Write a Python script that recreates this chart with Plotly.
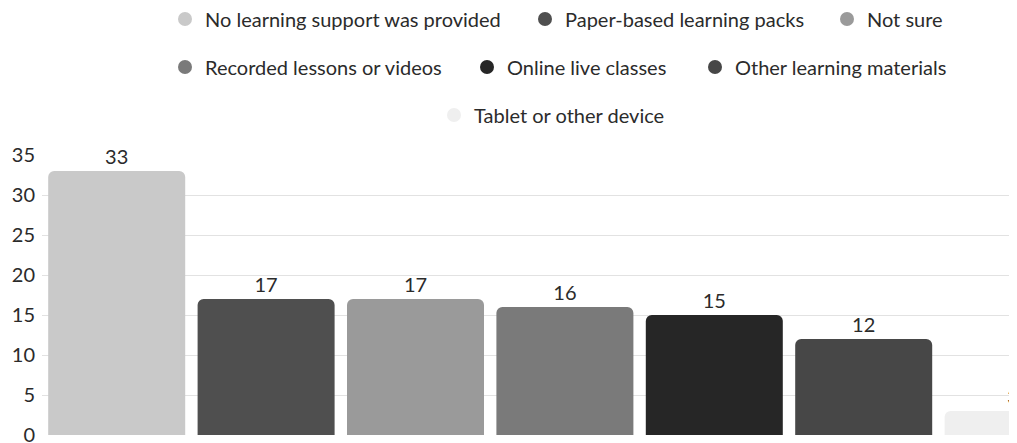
import plotly.graph_objects as go

# ---- data ----
categories = [
    "No learning support was provided",
    "Paper-based learning packs",
    "Not sure",
    "Recorded lessons or videos",
    "Online live classes",
    "Other learning materials",
    "Tablet or other device",
]
values = [33, 17, 17, 16, 15, 12, 3]
colors = ["#c9c9c9", "#4f4f4f", "#9a9a9a", "#7a7a7a", "#262626", "#474747", "#efefef"]
y_ticks = [0, 5, 10, 15, 20, 25, 30, 35]

# legend placement in page pixels: (text start x, row centre y)
legend_text_pos = [
    (205, 20), (565, 20), (867, 20),
    (205, 68), (507, 68), (735, 68),
    (474, 116),
]

OFF = 8  # default body margin of the html page
W, H = 1017 - OFF, 443 - OFF
ML, MR, MT, MB = 42 - OFF, 0, 155 - OFF, 8
plot_w = W - ML - MR
plot_h = H - MT - MB

fig = go.Figure()
fig.add_trace(go.Bar(
    x=categories, y=values,
    marker=dict(color=colors, line=dict(width=0)),
    text=[str(v) for v in values], textposition="outside",
    textfont=dict(family="Lato", size=20, color="#2b2b2b"),
    cliponaxis=False, showlegend=False, hoverinfo="skip",
))

layout_legends = {}
for i, (cat, col) in enumerate(zip(categories, colors)):
    name = "legend" if i == 0 else f"legend{i+1}"
    fig.add_trace(go.Scatter(
        x=[None], y=[None], mode="markers", name=cat,
        marker=dict(symbol="circle", size=14, color=col),
        legend=name, showlegend=True,
    ))
    tx, ty = legend_text_pos[i]
    left_fig = tx - OFF - 40
    yc_fig = ty - OFF - 1
    layout_legends[name] = dict(
        x=(left_fig - ML) / plot_w, xanchor="left",
        y=(H - MB - yc_fig) / plot_h, yanchor="middle",
        orientation="h", bgcolor="rgba(0,0,0,0)",
        font=dict(family="Lato", size=20, color="#2b2b2b"),
    )

fig.update_layout(
    width=W, height=H,
    margin=dict(l=ML, r=MR, t=MT, b=MB, pad=0, autoexpand=False),
    paper_bgcolor="white", plot_bgcolor="white",
    font=dict(family="Lato", size=20, color="#2b2b2b"),
    bargap=0.083,
    barcornerradius=6,
    xaxis=dict(type="category", range=[-0.5, -0.5 + plot_w / 149.4],
               showticklabels=False, showgrid=False, zeroline=False, showline=False),
    yaxis=dict(range=[0, 35], tickvals=y_ticks, showgrid=True, gridcolor="#e2e2e2",
               gridwidth=1, zeroline=False, showline=False,
               tickfont=dict(family="Lato", size=20, color="#2b2b2b"),
               ticklabelstandoff=6, ticklabeloverflow="allow"),
    **layout_legends,
)

fig.write_html("out.html")
